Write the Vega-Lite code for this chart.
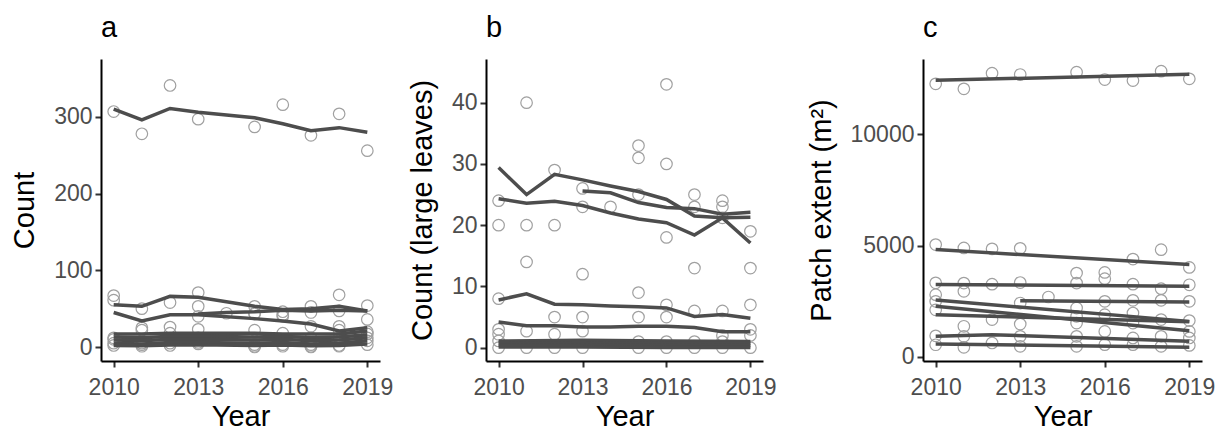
{
  "$schema": "https://vega.github.io/schema/vega-lite/v6.json",
  "padding": {"left": 10, "top": 14, "right": 0, "bottom": 0},
  "background": "white",
  "config": {
    "font": "Liberation Sans",
    "view": {"stroke": null},
    "axis": {"grid": false, "domainColor": "#000000", "domainWidth": 2, "tickColor": "#333333", "tickWidth": 2, "tickSize": 6, "labelFont": "Liberation Sans", "labelFontSize": 23, "labelColor": "#4D4D4D", "labelPadding": 3, "titleFont": "Liberation Sans", "titleFontSize": 29, "titleFontWeight": "normal", "titleColor": "#000000"},
    "axisX": {"labelPadding": 9, "titlePadding": 3},
    "axisY": {"titlePadding": 14},
    "title": {"fontSize": 29, "fontWeight": "normal", "anchor": "start", "frame": "group", "font": "Liberation Sans", "color": "#000000", "offset": 16}
  },
  "datasets": {
    "pts": [
      {"p":"a","year":2010,"v":307},{"p":"a","year":2011,"v":278},{"p":"a","year":2012,"v":341},{"p":"a","year":2013,"v":297},{"p":"a","year":2015,"v":287},{"p":"a","year":2016,"v":316},{"p":"a","year":2017,"v":276},{"p":"a","year":2018,"v":304},{"p":"a","year":2019,"v":256},
      {"p":"a","year":2010,"v":67},{"p":"a","year":2011,"v":50},{"p":"a","year":2012,"v":58},{"p":"a","year":2013,"v":71},{"p":"a","year":2015,"v":53},{"p":"a","year":2016,"v":46},{"p":"a","year":2017,"v":53},{"p":"a","year":2018,"v":68},{"p":"a","year":2019,"v":54},
      {"p":"a","year":2010,"v":61},{"p":"a","year":2011,"v":22},{"p":"a","year":2012,"v":26},{"p":"a","year":2013,"v":53},{"p":"a","year":2015,"v":43},{"p":"a","year":2016,"v":40},{"p":"a","year":2017,"v":27},{"p":"a","year":2018,"v":27},{"p":"a","year":2019,"v":36},
      {"p":"a","year":2013,"v":40},{"p":"a","year":2014,"v":44},{"p":"a","year":2015,"v":44},{"p":"a","year":2016,"v":42},{"p":"a","year":2017,"v":45},{"p":"a","year":2018,"v":47},{"p":"a","year":2019,"v":20},
      {"p":"a","year":2010,"v":12},{"p":"a","year":2011,"v":25},{"p":"a","year":2012,"v":18},{"p":"a","year":2013,"v":23},{"p":"a","year":2015,"v":22},{"p":"a","year":2016,"v":18},{"p":"a","year":2017,"v":12},{"p":"a","year":2018,"v":22},{"p":"a","year":2019,"v":17},
      {"p":"a","year":2010,"v":10},{"p":"a","year":2011,"v":5},{"p":"a","year":2012,"v":10},{"p":"a","year":2013,"v":12},{"p":"a","year":2015,"v":3},{"p":"a","year":2016,"v":10},{"p":"a","year":2017,"v":3},{"p":"a","year":2018,"v":12},{"p":"a","year":2019,"v":12},
      {"p":"a","year":2010,"v":5},{"p":"a","year":2011,"v":3},{"p":"a","year":2012,"v":5},{"p":"a","year":2013,"v":6},{"p":"a","year":2015,"v":1},{"p":"a","year":2016,"v":3},{"p":"a","year":2017,"v":1},{"p":"a","year":2018,"v":2},{"p":"a","year":2019,"v":8},
      {"p":"a","year":2010,"v":2},{"p":"a","year":2011,"v":1},{"p":"a","year":2012,"v":2},{"p":"a","year":2013,"v":4},{"p":"a","year":2015,"v":0},{"p":"a","year":2016,"v":1},{"p":"a","year":2017,"v":0},{"p":"a","year":2018,"v":1},{"p":"a","year":2019,"v":3},

      {"p":"b","year":2010,"v":24},{"p":"b","year":2010,"v":20},{"p":"b","year":2010,"v":8},{"p":"b","year":2010,"v":3},{"p":"b","year":2010,"v":2.2},{"p":"b","year":2010,"v":1.1},{"p":"b","year":2010,"v":0},
      {"p":"b","year":2011,"v":40},{"p":"b","year":2011,"v":20},{"p":"b","year":2011,"v":14},{"p":"b","year":2011,"v":2.7},{"p":"b","year":2011,"v":0},
      {"p":"b","year":2012,"v":29},{"p":"b","year":2012,"v":20},{"p":"b","year":2012,"v":5},{"p":"b","year":2012,"v":2.2},{"p":"b","year":2012,"v":0},
      {"p":"b","year":2013,"v":26},{"p":"b","year":2013,"v":23},{"p":"b","year":2013,"v":12},{"p":"b","year":2013,"v":5},{"p":"b","year":2013,"v":2.7},{"p":"b","year":2013,"v":0},
      {"p":"b","year":2014,"v":23},
      {"p":"b","year":2015,"v":33},{"p":"b","year":2015,"v":31},{"p":"b","year":2015,"v":25},{"p":"b","year":2015,"v":9},{"p":"b","year":2015,"v":5},{"p":"b","year":2015,"v":1},{"p":"b","year":2015,"v":0},
      {"p":"b","year":2016,"v":43},{"p":"b","year":2016,"v":30},{"p":"b","year":2016,"v":18},{"p":"b","year":2016,"v":7},{"p":"b","year":2016,"v":5},{"p":"b","year":2016,"v":1},{"p":"b","year":2016,"v":0},
      {"p":"b","year":2017,"v":25},{"p":"b","year":2017,"v":23},{"p":"b","year":2017,"v":13},{"p":"b","year":2017,"v":6},{"p":"b","year":2017,"v":1},{"p":"b","year":2017,"v":0},
      {"p":"b","year":2018,"v":24},{"p":"b","year":2018,"v":23},{"p":"b","year":2018,"v":21.2},{"p":"b","year":2018,"v":6},{"p":"b","year":2018,"v":2},{"p":"b","year":2018,"v":1},{"p":"b","year":2018,"v":0},
      {"p":"b","year":2019,"v":19},{"p":"b","year":2019,"v":13},{"p":"b","year":2019,"v":7},{"p":"b","year":2019,"v":3},{"p":"b","year":2019,"v":2},{"p":"b","year":2019,"v":0},

      {"p":"c","year":2010,"v":12270},{"p":"c","year":2011,"v":12045},{"p":"c","year":2012,"v":12750},{"p":"c","year":2013,"v":12690},{"p":"c","year":2015,"v":12795},{"p":"c","year":2016,"v":12465},{"p":"c","year":2017,"v":12420},{"p":"c","year":2018,"v":12840},{"p":"c","year":2019,"v":12495},
      {"p":"c","year":2010,"v":5050},{"p":"c","year":2010,"v":3330},{"p":"c","year":2010,"v":2800},{"p":"c","year":2010,"v":2500},{"p":"c","year":2010,"v":2120},{"p":"c","year":2010,"v":950},{"p":"c","year":2010,"v":550},
      {"p":"c","year":2011,"v":4900},{"p":"c","year":2011,"v":3320},{"p":"c","year":2011,"v":2950},{"p":"c","year":2011,"v":1380},{"p":"c","year":2011,"v":930},{"p":"c","year":2011,"v":435},
      {"p":"c","year":2012,"v":4860},{"p":"c","year":2012,"v":3270},{"p":"c","year":2012,"v":1680},{"p":"c","year":2012,"v":630},
      {"p":"c","year":2013,"v":4880},{"p":"c","year":2013,"v":3345},{"p":"c","year":2013,"v":2425},{"p":"c","year":2013,"v":1480},{"p":"c","year":2013,"v":930},{"p":"c","year":2013,"v":480},
      {"p":"c","year":2014,"v":2695},
      {"p":"c","year":2015,"v":3770},{"p":"c","year":2015,"v":3320},{"p":"c","year":2015,"v":2200},{"p":"c","year":2015,"v":1825},{"p":"c","year":2015,"v":1525},{"p":"c","year":2015,"v":930},{"p":"c","year":2015,"v":480},
      {"p":"c","year":2016,"v":3800},{"p":"c","year":2016,"v":3520},{"p":"c","year":2016,"v":2500},{"p":"c","year":2016,"v":1900},{"p":"c","year":2016,"v":1150},{"p":"c","year":2016,"v":555},
      {"p":"c","year":2017,"v":4400},{"p":"c","year":2017,"v":3270},{"p":"c","year":2017,"v":2545},{"p":"c","year":2017,"v":1975},{"p":"c","year":2017,"v":1525},{"p":"c","year":2017,"v":855},{"p":"c","year":2017,"v":555},
      {"p":"c","year":2018,"v":4820},{"p":"c","year":2018,"v":3070},{"p":"c","year":2018,"v":2545},{"p":"c","year":2018,"v":1680},{"p":"c","year":2018,"v":930},{"p":"c","year":2018,"v":480},
      {"p":"c","year":2019,"v":4025},{"p":"c","year":2019,"v":3245},{"p":"c","year":2019,"v":2500},{"p":"c","year":2019,"v":1635},{"p":"c","year":2019,"v":1150},{"p":"c","year":2019,"v":855},{"p":"c","year":2019,"v":520}
    ],
    "fit": [
      {"p":"a","s":1,"year":2010,"v":310},{"p":"a","s":1,"year":2011,"v":296},{"p":"a","s":1,"year":2012,"v":311},{"p":"a","s":1,"year":2013,"v":306},{"p":"a","s":1,"year":2015,"v":299},{"p":"a","s":1,"year":2016,"v":291},{"p":"a","s":1,"year":2017,"v":282},{"p":"a","s":1,"year":2018,"v":286},{"p":"a","s":1,"year":2019,"v":280},
      {"p":"a","s":2,"year":2010,"v":55},{"p":"a","s":2,"year":2011,"v":53},{"p":"a","s":2,"year":2012,"v":66},{"p":"a","s":2,"year":2013,"v":65},{"p":"a","s":2,"year":2015,"v":53},{"p":"a","s":2,"year":2016,"v":49},{"p":"a","s":2,"year":2017,"v":50},{"p":"a","s":2,"year":2018,"v":53},{"p":"a","s":2,"year":2019,"v":47},
      {"p":"a","s":3,"year":2010,"v":45},{"p":"a","s":3,"year":2011,"v":34},{"p":"a","s":3,"year":2012,"v":42},{"p":"a","s":3,"year":2013,"v":42},{"p":"a","s":3,"year":2015,"v":37},{"p":"a","s":3,"year":2016,"v":34},{"p":"a","s":3,"year":2017,"v":30},{"p":"a","s":3,"year":2018,"v":21},{"p":"a","s":3,"year":2019,"v":25},
      {"p":"a","s":4,"year":2013,"v":43},{"p":"a","s":4,"year":2014,"v":45},{"p":"a","s":4,"year":2015,"v":46},{"p":"a","s":4,"year":2016,"v":48},{"p":"a","s":4,"year":2017,"v":47},{"p":"a","s":4,"year":2018,"v":48},{"p":"a","s":4,"year":2019,"v":47},
      {"p":"a","s":5,"year":2010,"v":17},{"p":"a","s":5,"year":2011,"v":17},{"p":"a","s":5,"year":2012,"v":18},{"p":"a","s":5,"year":2013,"v":18},{"p":"a","s":5,"year":2015,"v":18},{"p":"a","s":5,"year":2016,"v":17},{"p":"a","s":5,"year":2017,"v":17},{"p":"a","s":5,"year":2018,"v":17},{"p":"a","s":5,"year":2019,"v":21},
      {"p":"a","s":6,"year":2010,"v":13},{"p":"a","s":6,"year":2011,"v":12},{"p":"a","s":6,"year":2012,"v":14},{"p":"a","s":6,"year":2013,"v":14},{"p":"a","s":6,"year":2015,"v":13},{"p":"a","s":6,"year":2016,"v":14},{"p":"a","s":6,"year":2017,"v":12},{"p":"a","s":6,"year":2018,"v":13},{"p":"a","s":6,"year":2019,"v":16},
      {"p":"a","s":7,"year":2010,"v":9},{"p":"a","s":7,"year":2011,"v":8},{"p":"a","s":7,"year":2012,"v":10},{"p":"a","s":7,"year":2013,"v":10},{"p":"a","s":7,"year":2015,"v":9},{"p":"a","s":7,"year":2016,"v":10},{"p":"a","s":7,"year":2017,"v":8},{"p":"a","s":7,"year":2018,"v":9},{"p":"a","s":7,"year":2019,"v":12},
      {"p":"a","s":8,"year":2010,"v":5},{"p":"a","s":8,"year":2011,"v":4},{"p":"a","s":8,"year":2012,"v":6},{"p":"a","s":8,"year":2013,"v":6},{"p":"a","s":8,"year":2015,"v":5},{"p":"a","s":8,"year":2016,"v":6},{"p":"a","s":8,"year":2017,"v":4},{"p":"a","s":8,"year":2018,"v":5},{"p":"a","s":8,"year":2019,"v":8},
      {"p":"a","s":9,"year":2010,"v":2},{"p":"a","s":9,"year":2011,"v":1.5},{"p":"a","s":9,"year":2012,"v":2.5},{"p":"a","s":9,"year":2013,"v":3},{"p":"a","s":9,"year":2015,"v":2},{"p":"a","s":9,"year":2016,"v":2.5},{"p":"a","s":9,"year":2017,"v":1.5},{"p":"a","s":9,"year":2018,"v":2},{"p":"a","s":9,"year":2019,"v":4},

      {"p":"b","s":1,"year":2010,"v":29.4},{"p":"b","s":1,"year":2011,"v":25.0},{"p":"b","s":1,"year":2012,"v":28.3},{"p":"b","s":1,"year":2013,"v":27.4},{"p":"b","s":1,"year":2014,"v":26.4},{"p":"b","s":1,"year":2015,"v":25.5},{"p":"b","s":1,"year":2016,"v":24.2},{"p":"b","s":1,"year":2017,"v":21.5},{"p":"b","s":1,"year":2018,"v":21.2},{"p":"b","s":1,"year":2019,"v":21.3},
      {"p":"b","s":2,"year":2013,"v":25.6},{"p":"b","s":2,"year":2014,"v":25.3},{"p":"b","s":2,"year":2015,"v":23.7},{"p":"b","s":2,"year":2016,"v":22.9},{"p":"b","s":2,"year":2017,"v":22.7},{"p":"b","s":2,"year":2018,"v":21.8},{"p":"b","s":2,"year":2019,"v":22.1},
      {"p":"b","s":3,"year":2010,"v":24.3},{"p":"b","s":3,"year":2011,"v":23.6},{"p":"b","s":3,"year":2012,"v":23.9},{"p":"b","s":3,"year":2013,"v":23.2},{"p":"b","s":3,"year":2014,"v":22.0},{"p":"b","s":3,"year":2015,"v":21.0},{"p":"b","s":3,"year":2016,"v":20.4},{"p":"b","s":3,"year":2017,"v":18.4},{"p":"b","s":3,"year":2018,"v":21.2},{"p":"b","s":3,"year":2019,"v":17.1},
      {"p":"b","s":4,"year":2010,"v":7.8},{"p":"b","s":4,"year":2011,"v":8.8},{"p":"b","s":4,"year":2012,"v":7.1},{"p":"b","s":4,"year":2013,"v":7.0},{"p":"b","s":4,"year":2014,"v":6.8},{"p":"b","s":4,"year":2015,"v":6.7},{"p":"b","s":4,"year":2016,"v":6.5},{"p":"b","s":4,"year":2017,"v":5.1},{"p":"b","s":4,"year":2018,"v":5.4},{"p":"b","s":4,"year":2019,"v":4.8},
      {"p":"b","s":5,"year":2010,"v":4.2},{"p":"b","s":5,"year":2011,"v":3.6},{"p":"b","s":5,"year":2012,"v":3.6},{"p":"b","s":5,"year":2013,"v":3.4},{"p":"b","s":5,"year":2014,"v":3.4},{"p":"b","s":5,"year":2015,"v":3.5},{"p":"b","s":5,"year":2016,"v":3.5},{"p":"b","s":5,"year":2017,"v":3.3},{"p":"b","s":5,"year":2018,"v":2.6},{"p":"b","s":5,"year":2019,"v":2.6},
      {"p":"b","s":6,"year":2010,"v":1.1},{"p":"b","s":6,"year":2013,"v":1.2},{"p":"b","s":6,"year":2016,"v":1.1},{"p":"b","s":6,"year":2019,"v":1.0},
      {"p":"b","s":7,"year":2010,"v":0.75},{"p":"b","s":7,"year":2013,"v":0.8},{"p":"b","s":7,"year":2016,"v":0.7},{"p":"b","s":7,"year":2019,"v":0.7},
      {"p":"b","s":8,"year":2010,"v":0.4},{"p":"b","s":8,"year":2013,"v":0.45},{"p":"b","s":8,"year":2016,"v":0.4},{"p":"b","s":8,"year":2019,"v":0.35},
      {"p":"b","s":9,"year":2010,"v":0.1},{"p":"b","s":9,"year":2013,"v":0.1},{"p":"b","s":9,"year":2016,"v":0.05},{"p":"b","s":9,"year":2019,"v":0.05},

      {"p":"c","s":1,"year":2010,"v":12430},{"p":"c","s":1,"year":2019,"v":12700},
      {"p":"c","s":2,"year":2010,"v":4830},{"p":"c","s":2,"year":2019,"v":4150},
      {"p":"c","s":3,"year":2010,"v":3260},{"p":"c","s":3,"year":2019,"v":3175},
      {"p":"c","s":4,"year":2013,"v":2530},{"p":"c","s":4,"year":2019,"v":2470},
      {"p":"c","s":5,"year":2010,"v":2560},{"p":"c","s":5,"year":2019,"v":1600},
      {"p":"c","s":6,"year":2010,"v":2280},{"p":"c","s":6,"year":2019,"v":1180},
      {"p":"c","s":7,"year":2010,"v":1900},{"p":"c","s":7,"year":2019,"v":1580},
      {"p":"c","s":8,"year":2010,"v":930},{"p":"c","s":8,"year":2012,"v":1000},{"p":"c","s":8,"year":2019,"v":705},
      {"p":"c","s":9,"year":2010,"v":585},{"p":"c","s":9,"year":2019,"v":435}
    ]
  },
  "bounds": "flush",
  "spacing": 106,
  "hconcat": [
    {
      "title": "a",
      "width": 279,
      "height": 302,
      "layer": [
        {
          "data": {"name": "pts"},
          "transform": [{"filter": "datum.p === 'a'"}],
          "mark": {"type": "point", "shape": "circle", "filled": false, "color": "#A0A0A0", "strokeWidth": 1.2, "size": 133, "opacity": 1},
          "encoding": {
            "x": {"field": "year", "type": "quantitative", "scale": {"domain": [2009.55, 2019.45], "nice": false, "zero": false}, "axis": {"values": [2010, 2013, 2016, 2019], "format": "d", "title": "Year"}},
            "y": {"field": "v", "type": "quantitative", "scale": {"domain": [-18.25, 375.5], "nice": false, "zero": false}, "axis": {"values": [0, 100, 200, 300], "format": "d", "title": "Count"}}
          }
        },
        {
          "data": {"name": "fit"},
          "transform": [{"filter": "datum.p === 'a'"}],
          "mark": {"type": "line", "color": "#4D4D4D", "strokeWidth": 3.5},
          "encoding": {
            "x": {"field": "year", "type": "quantitative"},
            "y": {"field": "v", "type": "quantitative"},
            "detail": {"field": "s", "type": "nominal"},
            "order": {"field": "year", "type": "quantitative"}
          }
        }
      ]
    },
    {
      "title": "b",
      "width": 331,
      "height": 302,
      "layer": [
        {
          "data": {"name": "pts"},
          "transform": [{"filter": "datum.p === 'b'"}],
          "mark": {"type": "point", "shape": "circle", "filled": false, "color": "#A0A0A0", "strokeWidth": 1.2, "size": 133, "opacity": 1},
          "encoding": {
            "x": {"field": "year", "type": "quantitative", "scale": {"domain": [2009.55, 2019.45], "range": [0, 277], "nice": false, "zero": false}, "axis": {"values": [2010, 2013, 2016, 2019], "format": "d", "title": "Year"}},
            "y": {"field": "v", "type": "quantitative", "scale": {"domain": [-2.17, 47.13], "nice": false, "zero": false}, "axis": {"values": [0, 10, 20, 30, 40], "format": "d", "title": "Count (large leaves)"}}
          }
        },
        {
          "data": {"name": "fit"},
          "transform": [{"filter": "datum.p === 'b'"}],
          "mark": {"type": "line", "color": "#4D4D4D", "strokeWidth": 3.5},
          "encoding": {
            "x": {"field": "year", "type": "quantitative"},
            "y": {"field": "v", "type": "quantitative"},
            "detail": {"field": "s", "type": "nominal"},
            "order": {"field": "year", "type": "quantitative"}
          }
        }
      ]
    },
    {
      "title": "c",
      "width": 279,
      "height": 302,
      "layer": [
        {
          "data": {"name": "pts"},
          "transform": [{"filter": "datum.p === 'c'"}],
          "mark": {"type": "point", "shape": "circle", "filled": false, "color": "#A0A0A0", "strokeWidth": 1.2, "size": 133, "opacity": 1},
          "encoding": {
            "x": {"field": "year", "type": "quantitative", "scale": {"domain": [2009.55, 2019.45], "nice": false, "zero": false}, "axis": {"values": [2010, 2013, 2016, 2019], "format": "d", "title": "Year"}},
            "y": {"field": "v", "type": "quantitative", "scale": {"domain": [-180, 13387], "nice": false, "zero": false}, "axis": {"values": [0, 5000, 10000], "format": "d", "title": "Patch extent (m²)"}}
          }
        },
        {
          "data": {"name": "fit"},
          "transform": [{"filter": "datum.p === 'c'"}],
          "mark": {"type": "line", "color": "#4D4D4D", "strokeWidth": 3.5},
          "encoding": {
            "x": {"field": "year", "type": "quantitative"},
            "y": {"field": "v", "type": "quantitative"},
            "detail": {"field": "s", "type": "nominal"},
            "order": {"field": "year", "type": "quantitative"}
          }
        }
      ]
    }
  ]
}
